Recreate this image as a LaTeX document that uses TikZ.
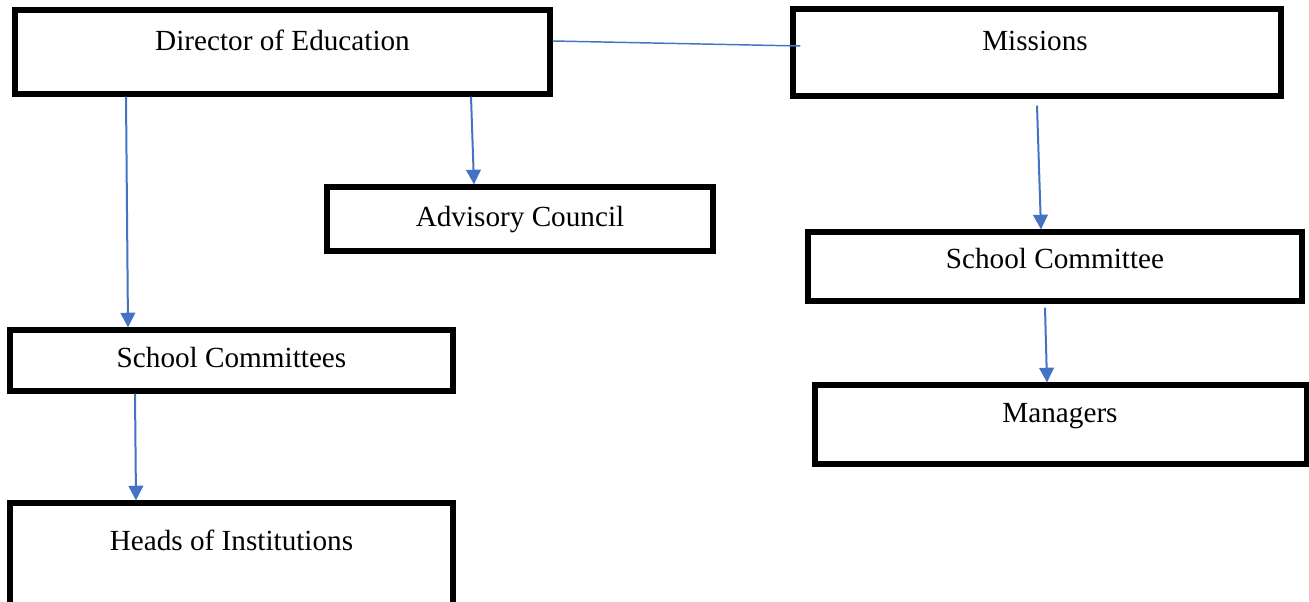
\documentclass[tikz,border=0pt]{standalone}
\usepackage{fontspec}
\setmainfont{Liberation Serif}
\usetikzlibrary{arrows.meta,calc}
\definecolor{linkblue}{RGB}{68,114,196}
\begin{document}
\begin{tikzpicture}[x=0.75pt,y=0.75pt,yscale=-1,xscale=1,
  box/.style={draw=black,line width=3.9pt,rectangle,inner sep=0pt},
  lbl/.style={anchor=base,inner sep=0.75pt,font=\fontsize{21.9}{26}\selectfont},
  link/.style={draw=linkblue,line width=1.1pt},
  arr/.style={link,line width=1.5pt,-{Triangle[length=11pt,width=11pt]}}]
\useasboundingbox (0,0) rectangle (1309,602);

%Shape: Rectangle [Director of Education]
\node[box,minimum width=401.25pt,minimum height=63pt] (dir) at (282.5,52) {};
%Shape: Rectangle [Missions]
\node[box,minimum width=366pt,minimum height=65.25pt] (mis) at (1037,52.5) {};
%Shape: Rectangle [Advisory Council]
\node[box,minimum width=289.5pt,minimum height=48pt] (adv) at (520,219) {};
%Shape: Rectangle [School Committee]
\node[box,minimum width=370.5pt,minimum height=51.75pt] (sc) at (1055,266.5) {};
%Shape: Rectangle [School Committees]
\node[box,minimum width=332.25pt,minimum height=45.75pt] (scs) at (231.5,360.5) {};
%Shape: Rectangle [Managers]
\node[box,minimum width=369pt,minimum height=59.25pt] (man) at (1061,424.5) {};
%Shape: Rectangle [Heads of Institutions]
\node[box,minimum width=332.25pt,minimum height=80.25pt] (hoi) at (231.5,556.5) {};

%Straight Lines
\draw[link] (dir.east |- 0,41) -- ($(mis.west |- 0,46)+(10,0)$);
%Straight Lines
\draw[arr] (126,0 |- dir.south) -- (128,0 |- scs.north);
%Straight Lines
\draw[arr] (471,0 |- dir.south) -- (474,0 |- adv.north);
%Straight Lines
\draw[arr] ($(1037,0 |- mis.south)+(0,7)$) -- (1041,0 |- sc.north);
%Straight Lines
\draw[arr] ($(1045,0 |- sc.south)+(0,4)$) -- (1047,0 |- man.north);
%Straight Lines
\draw[arr] (135,0 |- scs.south) -- (136,0 |- hoi.north);

% Text Node
\node[lbl] (dirt) at ($(dir.north)+(0,43.5)$) {Director of Education};
% Text Node
\node[lbl] (mist) at ($(mis.north)+(-2,44.5)$) {Missions};
% Text Node
\node[lbl] (advt) at ($(adv.north)+(0,42.5)$) {Advisory Council};
% Text Node
\node[lbl] (sct) at ($(sc.north)+(0,39.5)$) {School Committee};
% Text Node
\node[lbl] (scst) at ($(scs.north)+(0,40.5)$) {School Committees};
% Text Node
\node[lbl] (mant) at ($(man.north)+(-1,40.5)$) {Managers};
% Text Node
\node[lbl] (hoit) at ($(hoi.north)+(0,50.5)$) {Heads of Institutions};

\end{tikzpicture}
\end{document}
